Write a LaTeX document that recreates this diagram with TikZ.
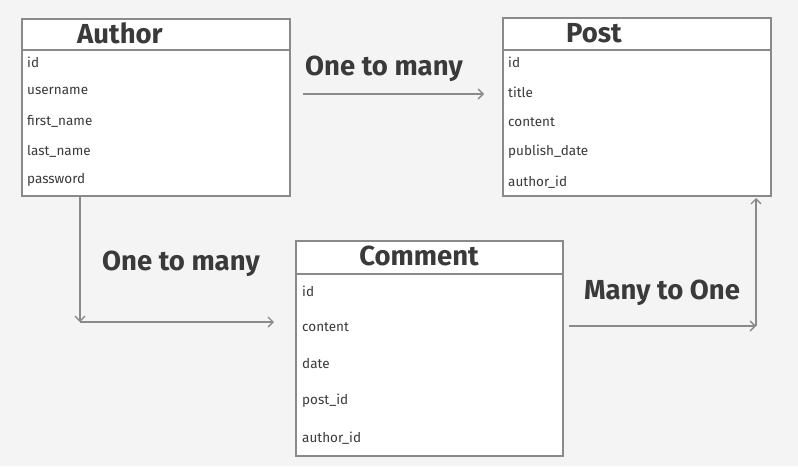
\documentclass[tikz,border=0pt]{standalone}
\usepackage{fontspec}
\setmainfont{Fira Sans}
\usetikzlibrary{arrows.meta}
\definecolor{bgGray}{HTML}{F4F4F4}
\definecolor{lineGray}{HTML}{8A8A8A}
\definecolor{textDark}{HTML}{3A3A3A}
\begin{document}
\begin{tikzpicture}[x=1pt,y=-1pt,
    tblbox/.style = {draw=lineGray, line width=1.6pt, fill=white, anchor=north west, inner sep=0pt},
    ttl/.style = {text=textDark, font=\fontsize{27.5}{30}\selectfont\bfseries},
    fld/.style = {text=textDark, anchor=west, inner sep=0pt, font=\fontsize{13.5}{15}\selectfont},
    lbl/.style = {text=textDark, font=\fontsize{27.5}{30}\selectfont\bfseries},
    rel/.style = {draw=lineGray, line width=1.3pt, -{Straight Barb[length=5pt,width=10pt]}}]
  \fill[bgGray] (0,0) rectangle (798,466);
  \useasboundingbox (0,0) rectangle (798,466);

  % Author
  \node(authorT)[tblbox, minimum width=268pt, minimum height=31pt] at (21,18) {};
  \node(authorB)[tblbox, minimum width=268pt, minimum height=146pt] at (21,49) {};
  \node(authorN)[ttl] at (120,33) {Author};
  \foreach \f/\y in {id/62, username/91, first\_name/121, last\_name/151, password/180}
    \node[fld] at (27,\y) {\f};

  % Post
  \node(postT)[tblbox, minimum width=268pt, minimum height=32pt] at (502,17) {};
  \node(postB)[tblbox, minimum width=268pt, minimum height=146pt] at (502,49) {};
  \node(postN)[ttl] at (594,33) {Post};
  \foreach \f/\y in {id/62, title/92, content/122, publish\_date/152, author\_id/182}
    \node[fld] at (508,\y) {\f};

  % Comment
  \node(commentT)[tblbox, minimum width=267pt, minimum height=33pt] at (295,240) {};
  \node(commentB)[tblbox, minimum width=267pt, minimum height=182pt] at (295,273) {};
  \node(commentN)[ttl] at (419,256) {Comment};
  \foreach \f/\y in {id/291, content/327, date/364, post\_id/401, author\_id/438}
    \node[fld] at (302,\y) {\f};

  % relations
  \coordinate (apS) at (303,94);
  \coordinate (apE) at (484,94);
  \draw[rel] (apS) -- (apE);
  \node(apL)[lbl] at (384,69) {One to many};

  \coordinate (acC) at (80,322);
  \coordinate (acE) at (274,322);
  \draw[rel] (authorB.south -| acC) -- (acC);
  \draw[rel] (acC) -- (acE);
  \node(acL)[lbl] at (181,264) {One to many};

  \coordinate (cpS) at (569,326);
  \coordinate (cpC) at (756,326);
  \coordinate (cpE) at (756,198);
  \draw[rel] (cpS) -- (cpC);
  \draw[rel] (cpC) -- (cpE);
  \node(cpL)[lbl] at (662,293) {Many to One};
\end{tikzpicture}
\end{document}
